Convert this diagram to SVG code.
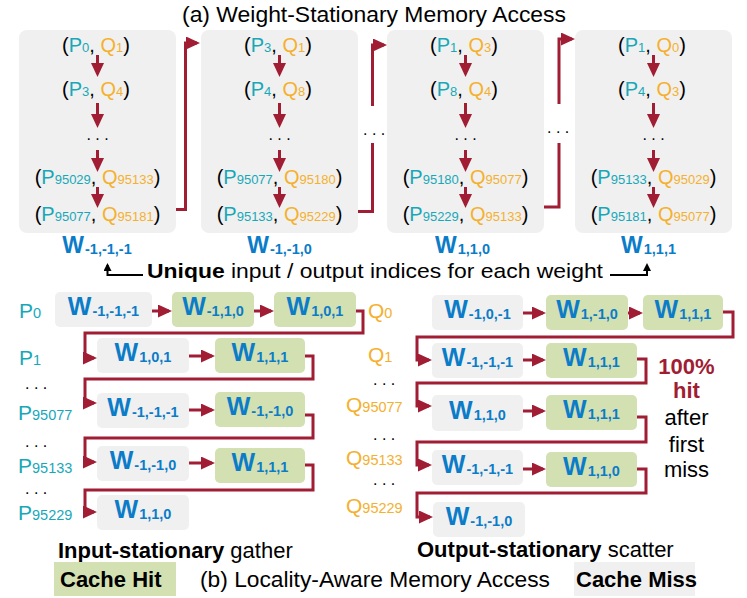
<svg xmlns="http://www.w3.org/2000/svg" width="747" height="598" viewBox="0 0 747 598">
<style>
text{font-family:"Liberation Sans",Arial,sans-serif}
.n{font-size:20px;fill:#000}
.p{fill:#17a8b8}
.q{fill:#f5b02e}
.s{font-size:13px}
.w{font-size:25px;font-weight:bold;fill:#0b7cc8}
.wt{font-size:23px}
.ws{font-size:14.5px}
.d{font-size:16px;fill:#000}
.g{fill:#f0f0f0}
.h{fill:#d3e0b2}
.c{fill:none;stroke:#a01d34;stroke-width:3}
.k{fill:none;stroke:#000;stroke-width:2}
.cap{font-size:22px;fill:#000}
.b{font-weight:bold}
.lbl{font-size:21px}
.red{fill:#a01d34}
</style>
<defs>
<marker id="a" viewBox="0 0 14 13" markerWidth="14" markerHeight="13" refX="11" refY="6.5" orient="auto" markerUnits="userSpaceOnUse"><path d="M0,0 L14,6.5 L0,13 z" fill="#a01d34"/></marker>
<marker id="bk" viewBox="0 0 8 8" markerWidth="8" markerHeight="8" refX="6" refY="4" orient="auto" markerUnits="userSpaceOnUse"><path d="M0,0 L8,4 L0,8 z" fill="#000"/></marker>
</defs>

<text class="cap" x="182" y="22" textLength="384" lengthAdjust="spacingAndGlyphs">(a) Weight-Stationary Memory Access</text>

<!-- Top weight boxes -->
<g id="box1">
<rect class="g" x="19" y="30" width="157" height="203" rx="8"/>
<text class="n" x="96" y="52" text-anchor="middle">(<tspan class="p">P</tspan><tspan class="p s">0</tspan>, <tspan class="q">Q</tspan><tspan class="q s">1</tspan>)</text>
<text class="n" x="96" y="96" text-anchor="middle">(<tspan class="p">P</tspan><tspan class="p s">3</tspan>, <tspan class="q">Q</tspan><tspan class="q s">4</tspan>)</text>
<text class="d" x="97.5" y="140" text-anchor="middle">. . .</text>
<text class="n" x="97.5" y="184" text-anchor="middle">(<tspan class="p">P</tspan><tspan class="p s">95029</tspan>, <tspan class="q">Q</tspan><tspan class="q s">95133</tspan>)</text>
<text class="n" x="97.5" y="221" text-anchor="middle">(<tspan class="p">P</tspan><tspan class="p s">95077</tspan>, <tspan class="q">Q</tspan><tspan class="q s">95181</tspan>)</text>
<text class="w wt" x="97" y="253" text-anchor="middle">W<tspan class="ws" dx="1" dy="1">-1,-1,-1</tspan></text>
</g>
<g id="box2">
<rect class="g" x="201" y="30" width="157" height="203" rx="8"/>
<text class="n" x="278" y="52" text-anchor="middle">(<tspan class="p">P</tspan><tspan class="p s">3</tspan>, <tspan class="q">Q</tspan><tspan class="q s">1</tspan>)</text>
<text class="n" x="278" y="96" text-anchor="middle">(<tspan class="p">P</tspan><tspan class="p s">4</tspan>, <tspan class="q">Q</tspan><tspan class="q s">8</tspan>)</text>
<text class="d" x="279.5" y="140" text-anchor="middle">. . .</text>
<text class="n" x="279.5" y="184" text-anchor="middle">(<tspan class="p">P</tspan><tspan class="p s">95077</tspan>, <tspan class="q">Q</tspan><tspan class="q s">95180</tspan>)</text>
<text class="n" x="279.5" y="221" text-anchor="middle">(<tspan class="p">P</tspan><tspan class="p s">95133</tspan>, <tspan class="q">Q</tspan><tspan class="q s">95229</tspan>)</text>
<text class="w wt" x="279.5" y="253" text-anchor="middle">W<tspan class="ws" dx="1" dy="1">-1,-1,0</tspan></text>
</g>
<g id="box3">
<rect class="g" x="387" y="30" width="157" height="203" rx="8"/>
<text class="n" x="464" y="52" text-anchor="middle">(<tspan class="p">P</tspan><tspan class="p s">1</tspan>, <tspan class="q">Q</tspan><tspan class="q s">3</tspan>)</text>
<text class="n" x="464" y="96" text-anchor="middle">(<tspan class="p">P</tspan><tspan class="p s">8</tspan>, <tspan class="q">Q</tspan><tspan class="q s">4</tspan>)</text>
<text class="d" x="465.5" y="140" text-anchor="middle">. . .</text>
<text class="n" x="465.5" y="184" text-anchor="middle">(<tspan class="p">P</tspan><tspan class="p s">95180</tspan>, <tspan class="q">Q</tspan><tspan class="q s">95077</tspan>)</text>
<text class="n" x="465.5" y="221" text-anchor="middle">(<tspan class="p">P</tspan><tspan class="p s">95229</tspan>, <tspan class="q">Q</tspan><tspan class="q s">95133</tspan>)</text>
<text class="w wt" x="462.5" y="253" text-anchor="middle">W<tspan class="ws" dx="1" dy="1">1,1,0</tspan></text>
</g>
<g id="box4">
<rect class="g" x="575" y="30" width="157" height="203" rx="8"/>
<text class="n" x="652" y="52" text-anchor="middle">(<tspan class="p">P</tspan><tspan class="p s">1</tspan>, <tspan class="q">Q</tspan><tspan class="q s">0</tspan>)</text>
<text class="n" x="652" y="96" text-anchor="middle">(<tspan class="p">P</tspan><tspan class="p s">4</tspan>, <tspan class="q">Q</tspan><tspan class="q s">3</tspan>)</text>
<text class="d" x="653.5" y="140" text-anchor="middle">. . .</text>
<text class="n" x="653.5" y="184" text-anchor="middle">(<tspan class="p">P</tspan><tspan class="p s">95133</tspan>, <tspan class="q">Q</tspan><tspan class="q s">95029</tspan>)</text>
<text class="n" x="653.5" y="221" text-anchor="middle">(<tspan class="p">P</tspan><tspan class="p s">95181</tspan>, <tspan class="q">Q</tspan><tspan class="q s">95077</tspan>)</text>
<text class="w wt" x="648.5" y="253" text-anchor="middle">W<tspan class="ws" dx="1" dy="1">1,1,1</tspan></text>
</g>

<!-- Unique label -->
<g id="unique">
<text class="lbl" x="147" y="278" textLength="456" lengthAdjust="spacingAndGlyphs"><tspan class="b">Unique</tspan> input / output indices for each weight</text>
</g>

<!-- Bottom-left: input-stationary -->
<g id="plabels" class="lbl">
<text class="p" x="19" y="318">P<tspan class="ws">0</tspan></text>
<text class="p" x="19" y="365">P<tspan class="ws">1</tspan></text>
<text class="d" x="25" y="389">. . .</text>
<text class="p" x="18" y="420">P<tspan class="ws">95077</tspan></text>
<text class="d" x="25" y="447">. . .</text>
<text class="p" x="18" y="473">P<tspan class="ws">95133</tspan></text>
<text class="d" x="25" y="494">. . .</text>
<text class="p" x="18" y="520">P<tspan class="ws">95229</tspan></text>
</g>
<g id="isA"><rect class="g" x="55" y="292" width="97" height="35" rx="5"/><text class="w" x="103.5" y="315" text-anchor="middle">W<tspan class="ws" dx="1" dy="1">-1,-1,-1</tspan></text></g>
<g id="isB"><rect class="h" x="172" y="292" width="82" height="35" rx="5"/><text class="w" x="213" y="315" text-anchor="middle">W<tspan class="ws" dx="1" dy="1">-1,1,0</tspan></text></g>
<g id="isC"><rect class="h" x="274" y="292" width="82" height="35" rx="5"/><text class="w" x="315" y="315" text-anchor="middle">W<tspan class="ws" dx="1" dy="1">1,0,1</tspan></text></g>
<g id="isD"><rect class="g" x="97" y="338" width="92" height="35" rx="5"/><text class="w" x="143" y="361" text-anchor="middle">W<tspan class="ws" dx="1" dy="1">1,0,1</tspan></text></g>
<g id="isE"><rect class="h" x="215" y="338" width="90" height="35" rx="5"/><text class="w" x="260" y="361" text-anchor="middle">W<tspan class="ws" dx="1" dy="1">1,1,1</tspan></text></g>
<g id="isF"><rect class="g" x="97" y="393" width="92" height="35" rx="5"/><text class="w" x="143" y="416" text-anchor="middle">W<tspan class="ws" dx="1" dy="1">-1,-1,-1</tspan></text></g>
<g id="isG"><rect class="h" x="215" y="392" width="90" height="35" rx="5"/><text class="w" x="260" y="415" text-anchor="middle">W<tspan class="ws" dx="1" dy="1">-1,-1,0</tspan></text></g>
<g id="isH"><rect class="g" x="97" y="446" width="92" height="35" rx="5"/><text class="w" x="143" y="469" text-anchor="middle">W<tspan class="ws" dx="1" dy="1">-1,-1,0</tspan></text></g>
<g id="isI"><rect class="h" x="215" y="448" width="90" height="35" rx="5"/><text class="w" x="260" y="471" text-anchor="middle">W<tspan class="ws" dx="1" dy="1">1,1,1</tspan></text></g>
<g id="isJ"><rect class="g" x="97" y="495" width="92" height="35" rx="5"/><text class="w" x="143" y="518" text-anchor="middle">W<tspan class="ws" dx="1" dy="1">1,1,0</tspan></text></g>

<!-- Bottom-right: output-stationary -->
<g id="qlabels" class="lbl">
<text class="q" x="368" y="318">Q<tspan class="ws">0</tspan></text>
<text class="q" x="368" y="362">Q<tspan class="ws">1</tspan></text>
<text class="d" x="373" y="385">. . .</text>
<text class="q" x="346" y="412">Q<tspan class="ws">95077</tspan></text>
<text class="d" x="373" y="440">. . .</text>
<text class="q" x="346" y="465">Q<tspan class="ws">95133</tspan></text>
<text class="d" x="373" y="485">. . .</text>
<text class="q" x="346" y="513">Q<tspan class="ws">95229</tspan></text>
</g>
<g id="osA"><rect class="g" x="432" y="295" width="91" height="35" rx="5"/><text class="w" x="477.5" y="318" text-anchor="middle">W<tspan class="ws" dx="1" dy="1">-1,0,-1</tspan></text></g>
<g id="osB"><rect class="h" x="546" y="295" width="82" height="35" rx="5"/><text class="w" x="587" y="318" text-anchor="middle">W<tspan class="ws" dx="1" dy="1">1,-1,0</tspan></text></g>
<g id="osC"><rect class="h" x="643" y="295" width="80" height="35" rx="5"/><text class="w" x="683" y="318" text-anchor="middle">W<tspan class="ws" dx="1" dy="1">1,1,1</tspan></text></g>
<g id="osD"><rect class="g" x="432" y="343" width="91" height="35" rx="5"/><text class="w" x="477.5" y="366" text-anchor="middle">W<tspan class="ws" dx="1" dy="1">-1,-1,-1</tspan></text></g>
<g id="osE"><rect class="h" x="546" y="343" width="91" height="35" rx="5"/><text class="w" x="591.5" y="366" text-anchor="middle">W<tspan class="ws" dx="1" dy="1">1,1,1</tspan></text></g>
<g id="osF"><rect class="g" x="432" y="395" width="91" height="36" rx="5"/><text class="w" x="477.5" y="419" text-anchor="middle">W<tspan class="ws" dx="1" dy="1">1,1,0</tspan></text></g>
<g id="osG"><rect class="h" x="546" y="395" width="91" height="35" rx="5"/><text class="w" x="591.5" y="418" text-anchor="middle">W<tspan class="ws" dx="1" dy="1">1,1,1</tspan></text></g>
<g id="osH"><rect class="g" x="432" y="450" width="91" height="35" rx="5"/><text class="w" x="477.5" y="473" text-anchor="middle">W<tspan class="ws" dx="1" dy="1">-1,-1,-1</tspan></text></g>
<g id="osI"><rect class="h" x="546" y="452" width="91" height="35" rx="5"/><text class="w" x="591.5" y="475" text-anchor="middle">W<tspan class="ws" dx="1" dy="1">1,1,0</tspan></text></g>
<g id="osJ"><rect class="g" x="433" y="502" width="92" height="35" rx="5"/><text class="w" x="479" y="525" text-anchor="middle">W<tspan class="ws" dx="1" dy="1">-1,-1,0</tspan></text></g>

<g id="hitnote" class="lbl" text-anchor="middle">
<text class="b red" x="686.5" y="374" style="font-size:22px">100%</text>
<text class="b red" x="686.5" y="398" style="font-size:22px">hit</text>
<text x="686.5" y="425" style="font-size:22px">after</text>
<text x="686.5" y="452" style="font-size:22px">first</text>
<text x="686.5" y="477" style="font-size:22px">miss</text>
</g>

<!-- captions and legend -->
<text class="cap" x="58" y="558"><tspan class="b">Input-stationary</tspan> gather</text>
<text class="cap" x="417" y="557"><tspan class="b">Output-stationary</tspan> scatter</text>
<g id="legendHit"><rect class="h" x="54" y="562" width="122" height="34"/><text class="cap b" x="60" y="587">Cache Hit</text></g>
<text class="cap" x="200" y="587" textLength="350" lengthAdjust="spacingAndGlyphs">(b) Locality-Aware Memory Access</text>
<g id="legendMiss"><rect class="g" x="574" y="562" width="121" height="34"/><text class="cap b" x="576" y="587">Cache Miss</text></g>

<!-- connectors -->
<g id="connectors">
<text class="d" x="363" y="135">. . .</text>
<text class="d" x="547" y="133">. . .</text>
<g class="c" marker-end="url(#a)">
<path d="M97.5,55 V74"/><path d="M97.5,103 V125"/><path d="M97.5,150 V169"/><path d="M97.5,187 V205"/>
<path d="M279.5,55 V74"/><path d="M279.5,103 V125"/><path d="M279.5,150 V169"/><path d="M279.5,187 V205"/>
<path d="M465.5,55 V74"/><path d="M465.5,103 V125"/><path d="M465.5,150 V169"/><path d="M465.5,187 V205"/>
<path d="M653.5,55 V74"/><path d="M653.5,103 V125"/><path d="M653.5,150 V169"/><path d="M653.5,187 V205"/>
<path d="M176,209.5 H185.5 V43 H197"/>
<path d="M372.5,106 V45 H384"/>
<path d="M559,104 V39 H572"/>
<path d="M152,311 H169"/><path d="M254,311 H271"/>
<path d="M356,311 H363 V333 H85 V358 H94"/>
<path d="M189,356 H212"/>
<path d="M305,356 H313 V379 H85 V403 H94"/>
<path d="M189,410 H212"/>
<path d="M305,415 H313 V438 H85 V462 H94"/>
<path d="M189,463 H212"/>
<path d="M305,465 H313 V490 H85 V512 H94"/>
<path d="M523,313 H543"/><path d="M628,313 H640"/>
<path d="M723,312 H733 V337 H417 V360 H429"/>
<path d="M523,360 H543"/>
<path d="M637,359 H646 V383 H417 V406 H429"/>
<path d="M523,411 H543"/>
<path d="M637,417 H646 V442 H417 V465 H429"/>
<path d="M523,469 H543"/>
<path d="M637,469 H646 V493 H417 V517 H430"/>
</g>
<path class="c" d="M358,211.5 H372.5 V143"/>
<path class="c" d="M544,207 H559 V143"/>
<g class="k" marker-end="url(#bk)">
<path d="M143,275 H107.5 V265"/>
<path d="M610,275 H647 V265"/>
</g>
</g>
</svg>
